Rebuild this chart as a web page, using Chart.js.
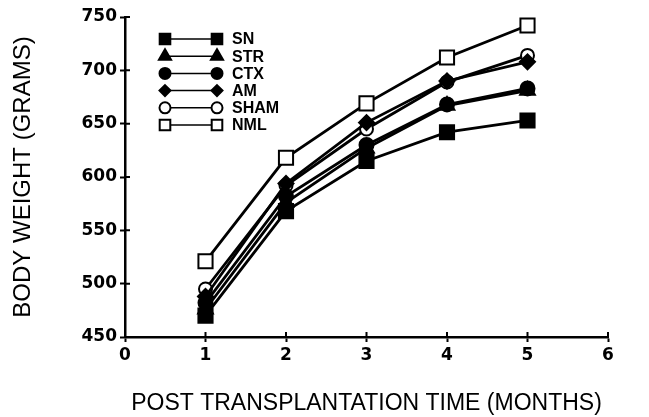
<!DOCTYPE html>
<html>
<head>
<meta charset="utf-8">
<script src="https://cdn.jsdelivr.net/npm/chart.js@4/dist/chart.umd.min.js"></script>
<style>
  html, body { margin: 0; padding: 0; background: #fff; }
  #wrap { width: 649px; height: 417px; position: relative; }
</style>
</head>
<body>
<div id="wrap"><canvas id="weight"></canvas></div>
<script>
const months = [1, 2, 3, 4, 5];
const groups = ['SN', 'STR', 'CTX', 'AM', 'SHAM', 'NML'];

const snWeight   = [470, 568, 615, 642, 653];
const strWeight  = [476, 576, 627, 667, 681];
const ctxWeight  = [482, 582, 630, 668, 683];
const amWeight   = [488, 594, 651, 690, 708];
const shamWeight = [495, 592, 645, 689, 714];
const nmlWeight  = [521, 618, 669, 712, 742];

const xTicks = [0, 1, 2, 3, 4, 5, 6];
const yTicks = [450, 500, 550, 600, 650, 700, 750];

const INK = '#000';
const TICK_FONT = '"DejaVu Sans", "Liberation Sans", sans-serif';
const TITLE_FONT = '"Liberation Sans", Arial, sans-serif';

// marker look per group: style, radius, filled
const markers = [
  { style: 'rect', r: 10, fill: true },
  { style: 'triangle', r: 8.5, fill: true },
  { style: 'circle', r: 7, fill: true },
  { style: 'rectRot', r: 7.5, fill: true },
  { style: 'circle', r: 6.5, fill: false },
  { style: 'rect', r: 10, fill: false }
];

const series = [snWeight, strWeight, ctxWeight, amWeight, shamWeight, nmlWeight];

const datasets = series.map((vals, i) => ({
  label: groups[i],
  data: months.map((m, j) => ({ x: m, y: vals[j] })),
  borderColor: INK,
  borderWidth: 2.8,
  pointStyle: markers[i].style,
  pointRadius: markers[i].r,
  pointBackgroundColor: markers[i].fill ? INK : '#fff',
  pointBorderColor: INK,
  pointBorderWidth: 2,
  tension: 0
}));

function drawMarker(ctx, style, x, y, r, fill) {
  ctx.save();
  ctx.beginPath();
  if (style === 'rect') {
    const s = r * Math.SQRT1_2;
    ctx.rect(x - s, y - s, 2 * s, 2 * s);
  } else if (style === 'circle') {
    ctx.arc(x, y, r, 0, Math.PI * 2);
  } else if (style === 'triangle') {
    ctx.moveTo(x, y - r);
    ctx.lineTo(x + r * 0.866, y + r * 0.5);
    ctx.lineTo(x - r * 0.866, y + r * 0.5);
    ctx.closePath();
  } else if (style === 'rectRot') {
    ctx.moveTo(x, y - r);
    ctx.lineTo(x + r, y);
    ctx.lineTo(x, y + r);
    ctx.lineTo(x - r, y);
    ctx.closePath();
  }
  ctx.fillStyle = fill ? INK : '#fff';
  ctx.fill();
  ctx.lineWidth = 2;
  ctx.strokeStyle = INK;
  ctx.stroke();
  ctx.restore();
}

// key in the upper left: marker, line, marker, name
const keyPlugin = {
  id: 'key',
  afterDatasetsDraw(chart) {
    const ctx = chart.ctx;
    const x0 = 165, x1 = 217, top = 39, step = 17.2;
    ctx.save();
    ctx.font = 'bold 16px "Liberation Sans", Arial, sans-serif';
    ctx.textBaseline = 'middle';
    ctx.fillStyle = INK;
    groups.forEach((g, i) => {
      const y = top + i * step;
      ctx.beginPath();
      ctx.moveTo(x0, y);
      ctx.lineTo(x1, y);
      ctx.lineWidth = 1.5;
      ctx.strokeStyle = INK;
      ctx.stroke();
      const m = markers[i];
      const rr = m.style === 'rect' ? 7.5 : (m.style === 'triangle' ? 7 : 5.5);
      drawMarker(ctx, m.style, x0, y, rr, m.fill);
      drawMarker(ctx, m.style, x1, y, rr, m.fill);
      ctx.fillText(g, 232, y + 1);
    });
    ctx.restore();
  }
};

// tick marks cross the axes, so add the inner half
const innerTicks = {
  id: 'innerTicks',
  afterDraw(chart) {
    const ctx = chart.ctx;
    const xs = chart.scales.x, ys = chart.scales.y;
    const len = 5;
    ctx.save();
    ctx.strokeStyle = INK;
    ctx.lineWidth = 2;
    ctx.beginPath();
    xTicks.forEach(v => {
      const px = xs.getPixelForValue(v);
      ctx.moveTo(px, ys.bottom);
      ctx.lineTo(px, ys.bottom - len);
    });
    yTicks.forEach(v => {
      const py = ys.getPixelForValue(v);
      ctx.moveTo(xs.left, py);
      ctx.lineTo(xs.left + len, py);
    });
    ctx.stroke();
    ctx.restore();
  }
};

new Chart(document.getElementById('weight'), {
  type: 'line',
  data: { datasets },
  plugins: [keyPlugin, innerTicks],
  options: {
    responsive: true,
    maintainAspectRatio: false,
    animation: false,
    layout: { padding: { top: 17, right: 41, left: 0, bottom: 0 } },
    plugins: {
      legend: { display: false },
      tooltip: { enabled: false }
    },
    scales: {
      x: {
        type: 'linear',
        min: 0,
        max: 6,
        afterBuildTicks: s => { s.ticks = xTicks.map(v => ({ value: v })); },
        afterFit: s => { s.height = 80; },
        border: { color: INK, width: 2.5 },
        grid: { drawOnChartArea: false, tickLength: 5, tickColor: INK, tickWidth: 2 },
        ticks: { color: INK, padding: 3, font: { family: TICK_FONT, weight: 'bold', size: 17 } },
        title: {
          display: true,
          text: 'POST TRANSPLANTATION TIME (MONTHS)',
          color: INK,
          padding: { top: 20, bottom: 0 },
          font: { family: TITLE_FONT, size: 23 }
        }
      },
      y: {
        type: 'linear',
        min: 450,
        max: 750,
        afterBuildTicks: s => { s.ticks = yTicks.map(v => ({ value: v })); },
        afterFit: s => { s.width = 125; },
        border: { color: INK, width: 2.5 },
        grid: { drawOnChartArea: false, tickLength: 5, tickColor: INK, tickWidth: 2 },
        ticks: { color: INK, padding: 3, font: { family: TICK_FONT, weight: 'bold', size: 17 } },
        title: {
          display: true,
          text: 'BODY WEIGHT (GRAMS)',
          color: INK,
          padding: { top: 9, bottom: 0 },
          font: { family: TITLE_FONT, size: 24 }
        }
      }
    }
  }
});
</script>
</body>
</html>
